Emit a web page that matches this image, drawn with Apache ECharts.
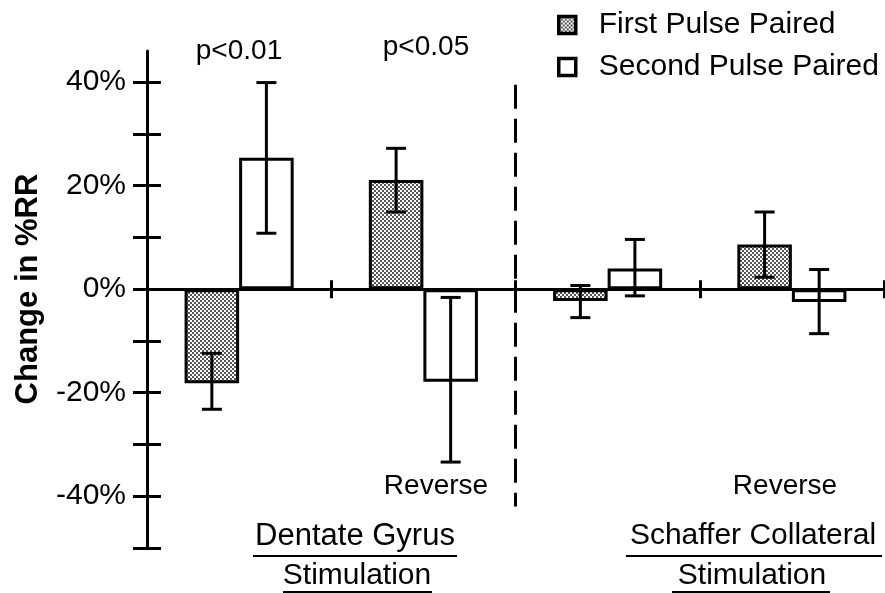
<!DOCTYPE html>
<html><head><meta charset="utf-8">
<script src="https://cdn.jsdelivr.net/npm/echarts@6/dist/echarts.min.js"></script>
<style>html,body{margin:0;padding:0;background:#fff}#c{width:885px;height:593px}</style>
</head><body><div id="c"></div>
<script>
// ---- data ----
const categories = ['DG direct', 'DG reverse', 'SC direct', 'SC reverse'];
const seriesNames = ['First Pulse Paired', 'Second Pulse Paired'];
const firstPulse = [-18.2, 21.1, -2.3, 8.6];
const firstLow   = [-23.2, 14.9, -5.5, 2.3];
const firstHigh  = [-12.4, 27.2, 0.7, 14.9];
const secondPulse = [25.4, -17.9, 4.0, -2.5];
const secondLow   = [10.8, -33.4, -1.3, -8.6];
const secondHigh  = [39.9, -1.6, 9.6, 3.8];
const yTickValues = [-50, -40, -30, -20, -10, 0, 10, 20, 30, 40];
const yLabelValues = [-40, -20, 0, 20, 40];
const yMin = -50, yMax = 46;
const dividerRange = [39.5, -42]; // dashed divider after category index 1
const pLabels = ['p<0.01', 'p<0.05'];
const reverseLabel = 'Reverse';
const groupTitles = [['Dentate Gyrus', 'Stimulation'], ['Schaffer Collateral', 'Stimulation']];
const yTitle = 'Change in %RR';

const FONT = '"Liberation Sans", Arial, sans-serif';
const BAR_FRAC = 0.296;

function makePattern() {
  const c = document.createElement('canvas');
  c.width = 4; c.height = 4;
  const g = c.getContext('2d');
  g.fillStyle = '#fff'; g.fillRect(0, 0, 4, 4);
  g.fillStyle = '#555';
  g.fillRect(0, 0, 2, 2); g.fillRect(2, 2, 2, 2);
  return c;
}
const stipple = { image: makePattern(), repeat: 'repeat' };

function errRender(sign) {
  return function (params, api) {
    const i = api.value(0);
    const band = api.size([1, 0])[0];
    const off = sign * band * BAR_FRAC / 2;
    const lo = api.coord([i, api.value(1)]);
    const hi = api.coord([i, api.value(2)]);
    const x = lo[0] + off;
    const cap = 10;
    const st = { stroke: '#000', lineWidth: 3 };
    return { type: 'group', children: [
      { type: 'line', shape: { x1: x, y1: lo[1], x2: x, y2: hi[1] }, style: st },
      { type: 'line', shape: { x1: x - cap, y1: lo[1], x2: x + cap, y2: lo[1] }, style: st },
      { type: 'line', shape: { x1: x - cap, y1: hi[1], x2: x + cap, y2: hi[1] }, style: st }
    ]};
  };
}
function dividerRender(params, api) {
  const i = api.value(0);
  const band = api.size([1, 0])[0];
  const a = api.coord([i, api.value(1)]);
  const b = api.coord([i, api.value(2)]);
  const x = a[0] + band / 2;
  return { type: 'line', shape: { x1: x, y1: a[1], x2: x, y2: b[1] },
    style: { stroke: '#000', lineWidth: 3, lineDash: [24, 10] } };
}

const chart = echarts.init(document.getElementById('c'), null, { renderer: 'canvas' });
const axisLineStyle = { color: '#000', width: 3 };
const txt = (text, x, y, size, weight, rot) => ({
  type: 'text', x: x, y: y, rotation: rot || 0,
  style: { text: text, font: (weight ? weight + ' ' : '') + size + 'px ' + FONT, fill: '#000',
    textAlign: 'center', textVerticalAlign: 'middle' }
});
const uline = (x1, x2, y) => ({ type: 'line', shape: { x1: x1, y1: y, x2: x2, y2: y }, style: { stroke: '#000', lineWidth: 2 } });

chart.setOption({
  animation: false,
  backgroundColor: '#fff',
  textStyle: { fontFamily: FONT },
  grid: { left: 147, right: 1, top: 51, bottom: 45, containLabel: false, outerBoundsMode: 'none' },
  legend: {
    orient: 'vertical', left: 552, top: 5, itemWidth: 17, itemHeight: 17, itemGap: 12,
    icon: 'rect', selectedMode: false,
    textStyle: { fontSize: 30, color: '#000', fontFamily: FONT, padding: [0, 0, 0, 18] },
    itemStyle: { borderWidth: 3.5, borderColor: '#000' },
    data: seriesNames
  },
  xAxis: [
    { type: 'category', data: categories, position: 'bottom',
      axisLine: { onZero: true, onZeroAxisIndex: 0, lineStyle: axisLineStyle },
      axisTick: { show: true, inside: false, length: 9, lineStyle: axisLineStyle },
      axisLabel: { show: false }, splitLine: { show: false } },
    { type: 'category', data: categories, position: 'bottom',
      axisLine: { onZero: true, onZeroAxisIndex: 1, show: false },
      axisTick: { show: true, inside: true, length: 9, lineStyle: axisLineStyle },
      axisLabel: { show: false }, splitLine: { show: false } }
  ],
  yAxis: [
    { type: 'value', min: yMin, max: yMax, position: 'left',
      axisLine: { show: true, lineStyle: axisLineStyle },
      axisTick: { show: true, inside: false, length: 14, lineStyle: axisLineStyle, customValues: yTickValues },
      axisLabel: { show: true, margin: 21, fontSize: 30, color: '#000', fontFamily: FONT,
        customValues: yLabelValues, formatter: v => v + '%' },
      splitLine: { show: false } },
    { type: 'value', min: yMin, max: yMax, position: 'left',
      axisLine: { show: false },
      axisTick: { show: true, inside: true, length: 14, lineStyle: axisLineStyle, customValues: yTickValues },
      axisLabel: { show: false }, splitLine: { show: false } }
  ],
  series: [
    { name: seriesNames[0], type: 'bar', data: firstPulse, barWidth: (BAR_FRAC * 100) + '%', barGap: '0%',
      itemStyle: { color: stipple, borderColor: '#000', borderWidth: 3 }, z: 2 },
    { name: seriesNames[1], type: 'bar', data: secondPulse, barWidth: (BAR_FRAC * 100) + '%', barGap: '0%',
      itemStyle: { color: '#fff', borderColor: '#000', borderWidth: 3 }, z: 2 },
    { type: 'custom', renderItem: errRender(-1), encode: { x: 0, y: [1, 2] }, z: 5,
      data: categories.map((c, i) => [i, firstLow[i], firstHigh[i]]) },
    { type: 'custom', renderItem: errRender(1), encode: { x: 0, y: [1, 2] }, z: 5,
      data: categories.map((c, i) => [i, secondLow[i], secondHigh[i]]) },
    { type: 'custom', renderItem: dividerRender, encode: { x: 0, y: [1, 2] }, z: 6,
      data: [[1, dividerRange[0], dividerRange[1]]] }
  ],
  graphic: [
    txt(yTitle, 28, 289, 31, 'bold', Math.PI / 2),
    txt(pLabels[0], 239, 51, 28),
    txt(pLabels[1], 426, 47, 28),
    txt(reverseLabel, 436, 486, 28),
    txt(reverseLabel, 785, 486, 28),
    txt(groupTitles[0][0], 355, 536, 31),
    txt(groupTitles[0][1], 357, 576, 30),
    txt(groupTitles[1][0], 753, 536, 30),
    txt(groupTitles[1][1], 752, 576, 30),
    uline(253, 457, 556), uline(283, 432, 592),
    uline(626, 882, 556), uline(672, 830, 592)
  ]
});
</script></body></html>
